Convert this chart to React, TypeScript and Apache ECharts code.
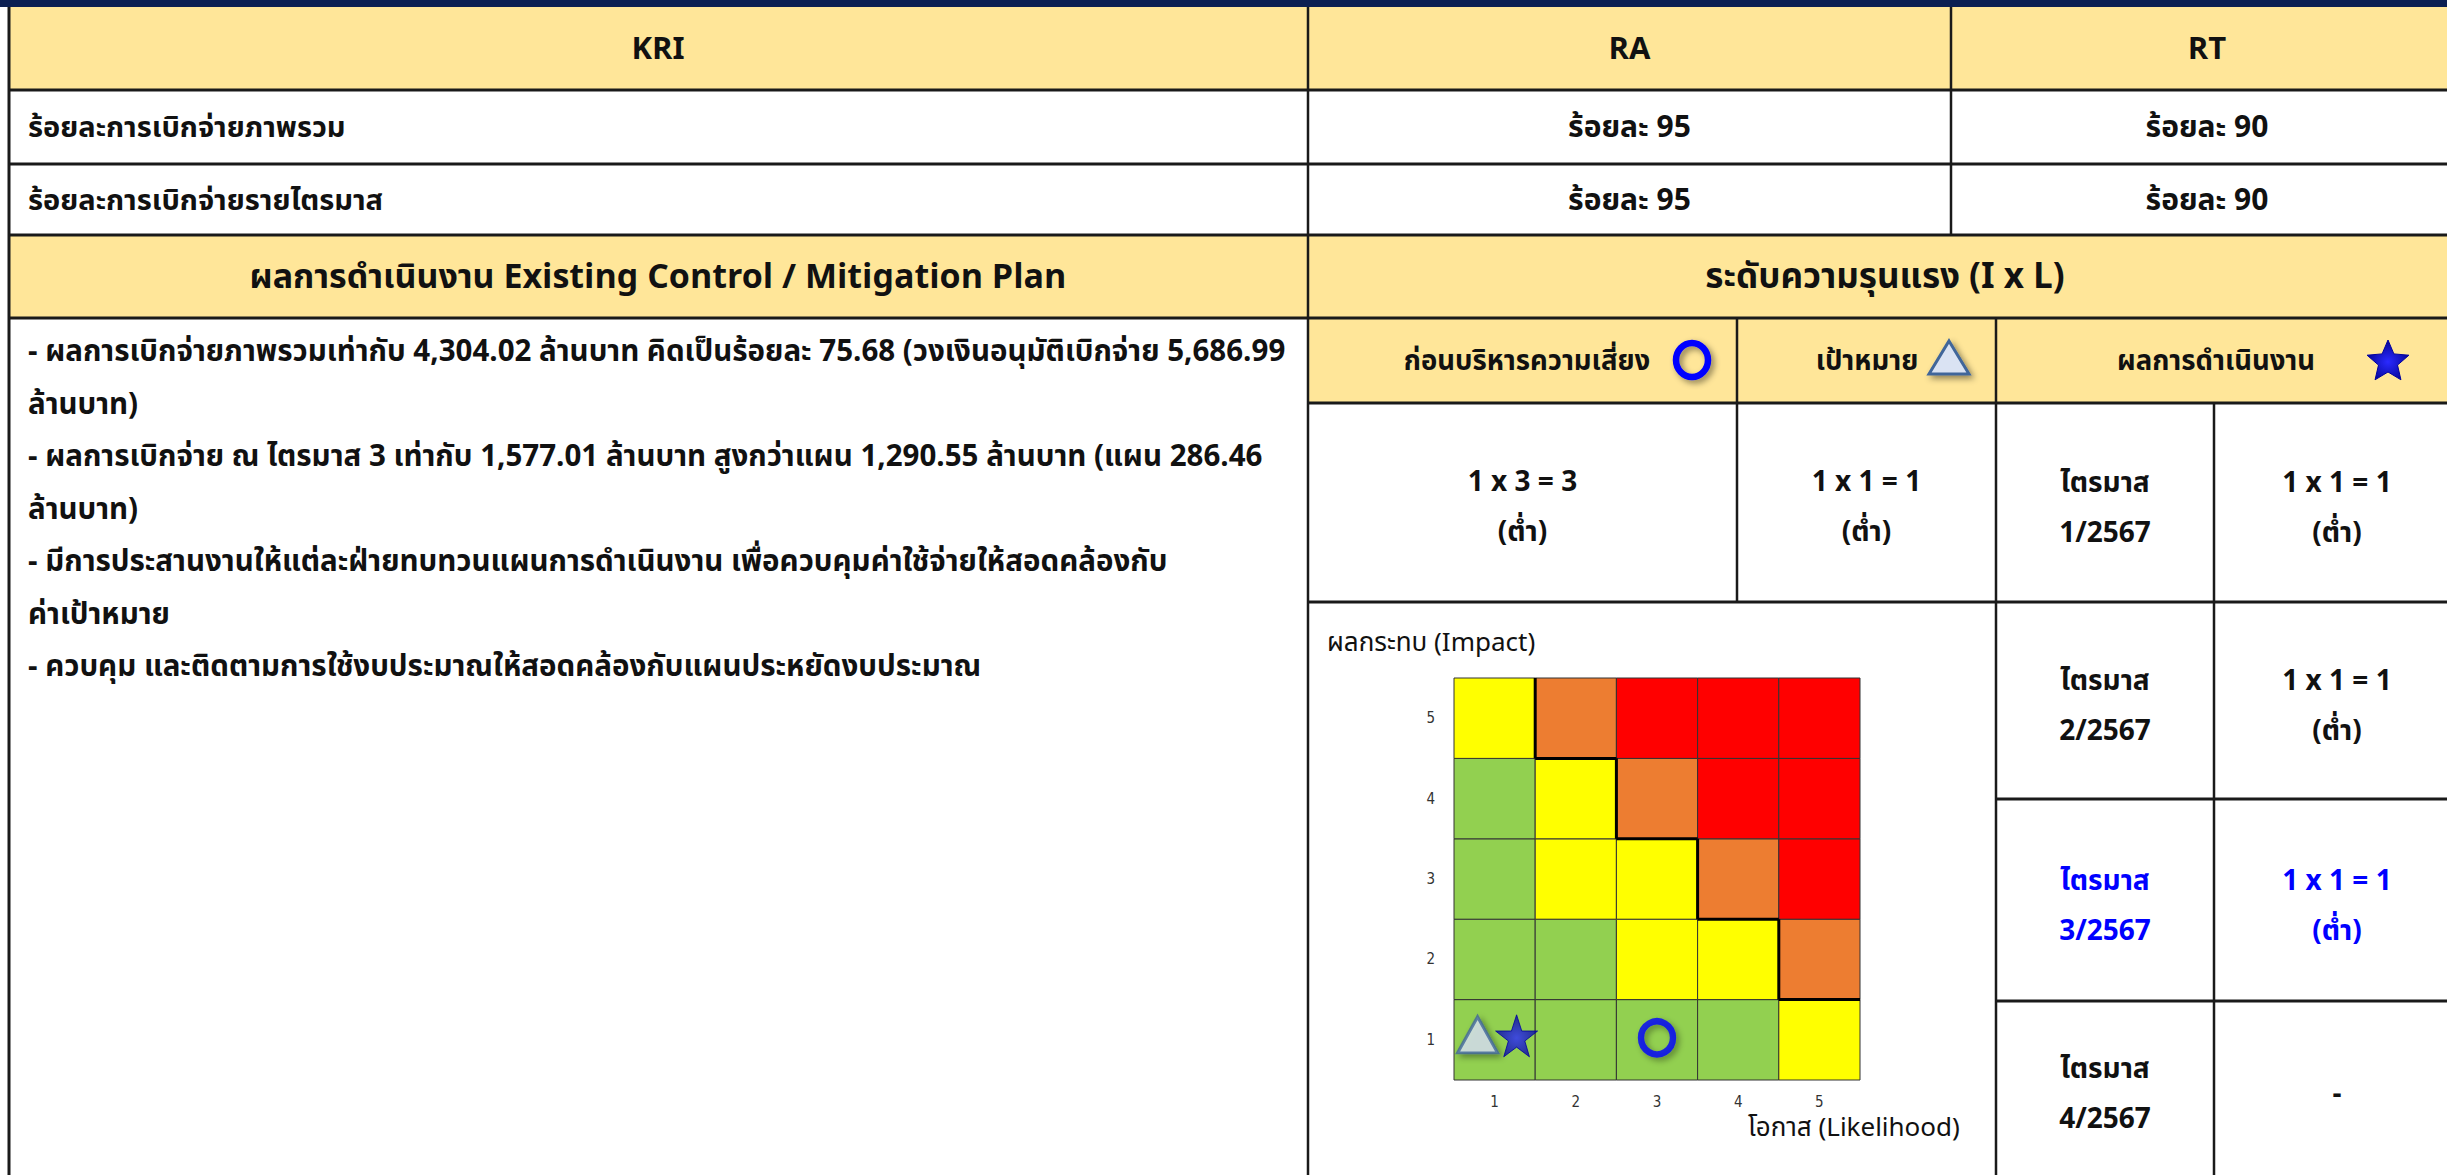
import React, { useEffect, useRef } from 'react';
import * as echarts from 'echarts';

// ---------- data ----------
const headerLabels = ['KRI', 'RA', 'RT'];
const kriNames = ['ร้อยละการเบิกจ่ายภาพรวม', 'ร้อยละการเบิกจ่ายรายไตรมาส'];
const raValues = ['ร้อยละ 95', 'ร้อยละ 95'];
const rtValues = ['ร้อยละ 90', 'ร้อยละ 90'];
const planTitle = 'ผลการดำเนินงาน Existing Control / Mitigation Plan';
const severityTitle = 'ระดับความรุนแรง (I x L)';
const planLines = [
  '- ผลการเบิกจ่ายภาพรวมเท่ากับ 4,304.02 ล้านบาท คิดเป็นร้อยละ 75.68 (วงเงินอนุมัติเบิกจ่าย 5,686.99',
  'ล้านบาท)',
  '- ผลการเบิกจ่าย ณ ไตรมาส 3 เท่ากับ 1,577.01 ล้านบาท สูงกว่าแผน 1,290.55 ล้านบาท (แผน 286.46',
  'ล้านบาท)',
  '- มีการประสานงานให้แต่ละฝ่ายทบทวนแผนการดำเนินงาน เพื่อควบคุมค่าใช้จ่ายให้สอดคล้องกับ',
  'ค่าเป้าหมาย',
  '- ควบคุม และติดตามการใช้งบประมาณให้สอดคล้องกับแผนประหยัดงบประมาณ',
];
const subHeaders = ['ก่อนบริหารความเสี่ยง', 'เป้าหมาย', 'ผลการดำเนินงาน'];
const beforeScore = '1 x 3 = 3';
const targetScore = '1 x 1 = 1';
const lowLevel = '(ต่ำ)';
const quarterWord = 'ไตรมาส';
const quarterPeriods = ['1/2567', '2/2567', '3/2567', '4/2567'];
const quarterScores = ['1 x 1 = 1', '1 x 1 = 1', '1 x 1 = 1', '-'];
const quarterLevels = ['(ต่ำ)', '(ต่ำ)', '(ต่ำ)', ''];
const currentQuarter = 2; // index of highlighted quarter (3/2567)

const likelihoodTicks = ['1', '2', '3', '4', '5'];
const impactTicks = ['1', '2', '3', '4', '5'];
// risk level per impact row (1 → 5), each listing likelihood 1 → 5
const riskLevels = [
  [1, 1, 1, 1, 2],
  [1, 1, 2, 2, 3],
  [1, 2, 2, 3, 4],
  [1, 2, 3, 4, 4],
  [2, 3, 4, 4, 4],
];
const levelColors = ['#92D050', '#FFFF00', '#ED7D31', '#FF0000'];
const beforePoint = [3, 1]; // [likelihood, impact]
const targetPoint = [1, 1];
const actualPoint = [1, 1];
const impactAxisName = 'ผลกระทบ (Impact)';
const likelihoodAxisName = 'โอกาส (Likelihood)';

// ---------- styling ----------
const FONT = "Tahoma, 'Noto Sans Thai', 'Noto Sans', 'DejaVu Sans', sans-serif";
const YELLOW = '#FFE699';
const LINE = '#1a1a1a';
const BLUE = '#0000FF';
const STAR_PATH =
  'path://M50,0 L61.8,35.1 L98.1,35.1 L68.8,56.7 L79.4,90.9 L50,70 L20.6,90.9 L31.2,56.7 L1.9,35.1 L38.2,35.1 Z';

function starPoints(cx: number, cy: number, R: number, r: number) {
  const pts: number[][] = [];
  for (let i = 0; i < 10; i++) {
    const a = -Math.PI / 2 + (i * Math.PI) / 5;
    const rad = i % 2 === 0 ? R : r;
    pts.push([cx + rad * Math.cos(a), cy + rad * Math.sin(a)]);
  }
  return pts;
}

function buildGraphic() {
  const g: any[] = [];
  const W = 2447;
  const L = 8, C1 = 1308, C2 = 1951, R = 2470;
  const S1 = 1737, S2 = 1996, S3 = 2214;
  const y0 = 7, y1 = 90, y2 = 164, y3 = 235, y4 = 318, y5 = 403, y6 = 602, y7 = 799, y8 = 1001, yB = 1180;

  const rect = (x: number, y: number, w: number, h: number, fill: string) =>
    g.push({ type: 'rect', silent: true, z: 0, shape: { x, y, width: w, height: h }, style: { fill } });
  const hline = (x1: number, x2: number, y: number, w = 3) =>
    g.push({ type: 'line', silent: true, z: 10, shape: { x1, y1: y, x2, y2: y }, style: { stroke: LINE, lineWidth: w } });
  const vline = (x: number, y1: number, y2: number, w = 2.5) =>
    g.push({ type: 'line', silent: true, z: 10, shape: { x1: x, y1, x2: x, y2 }, style: { stroke: LINE, lineWidth: w } });
  const text = (x: number, y: number, t: string, size: number, opts: any = {}) =>
    g.push({
      type: 'text', silent: true, z: 12, x, y,
      style: {
        text: t, fontSize: size, fontFamily: FONT, fontWeight: opts.weight || 'bold',
        fill: opts.color || '#111', textAlign: opts.align || 'center', textVerticalAlign: 'middle',
        lineHeight: opts.lineHeight || size * 1.3,
      },
    });

  // backgrounds
  rect(0, 0, W, y0, '#0B1F52');
  rect(L, y0, R - L, y1 - y0, YELLOW);
  rect(L, y3, R - L, y4 - y3, YELLOW);
  rect(C1, y4, R - C1, y5 - y4, YELLOW);

  // lines
  [y1, y2, y3, y4].forEach((y) => hline(L, R, y));
  hline(C1, R, y5);
  hline(C1, R, y6);
  hline(S2, R, y7);
  hline(S2, R, y8);
  vline(L + 1, y0, yB, 3);
  vline(C1, y0, yB);
  vline(C2, y0, y3);
  vline(S1, y4, y6);
  vline(S2, y4, yB);
  vline(S3, y5, yB);

  // header row
  const colCenters = [(L + C1) / 2, (C1 + C2) / 2, 2207];
  headerLabels.forEach((t, i) => text(colCenters[i], (y0 + y1) / 2 + 1, t, 31, { weight: 'bold' }));

  // KRI rows
  const rowMid = [(y1 + y2) / 2, (y2 + y3) / 2];
  kriNames.forEach((t, i) => {
    text(28, rowMid[i] + 1, t, 29, { align: 'left' });
    text(colCenters[1], rowMid[i] + 1, raValues[i], 30);
    text(colCenters[2], rowMid[i] + 1, rtValues[i], 30);
  });

  // section headers
  text((L + C1) / 2, (y3 + y4) / 2 + 1, planTitle, 34, { weight: 'bold' });
  text(1885, (y3 + y4) / 2 + 1, severityTitle, 35, { weight: 'bold' });

  // plan lines
  planLines.forEach((t, i) => text(28, 352 + i * 52.5, t, 29.5, { align: 'left' }));

  // sub headers with icons
  const sy = (y4 + y5) / 2;
  text(1527, sy + 1, subHeaders[0], 27.5);
  text(1867, sy + 1, subHeaders[1], 27.5);
  text(2216, sy + 1, subHeaders[2], 27.5);
  g.push({
    type: 'ellipse', silent: true, z: 12,
    shape: { cx: 1692, cy: 360, rx: 16, ry: 17 },
    style: { fill: 'none', stroke: BLUE, lineWidth: 6.5, shadowBlur: 6, shadowColor: 'rgba(0,0,0,0.45)', shadowOffsetX: 3, shadowOffsetY: 3 },
  });
  g.push({
    type: 'polygon', silent: true, z: 12,
    shape: { points: [[1949, 341], [1969, 374], [1929, 374]] },
    style: { fill: '#DAE3F3', stroke: '#41669A', lineWidth: 3, shadowBlur: 6, shadowColor: 'rgba(0,0,0,0.45)', shadowOffsetX: 3, shadowOffsetY: 3 },
  });
  g.push({
    type: 'polygon', silent: true, z: 12,
    shape: { points: starPoints(2388, 362, 22, 10) },
    style: {
      fill: new echarts.graphic.RadialGradient(0.5, 0.55, 0.6, [
        { offset: 0, color: '#2a2aff' },
        { offset: 1, color: '#00008a' },
      ]),
      stroke: '#0000A0', lineWidth: 1,
    },
  });

  // before / target row
  const r1 = (y5 + y6) / 2 + 5;
  text((C1 + S1) / 2, r1, beforeScore + '\n' + lowLevel, 28, { lineHeight: 50 });
  text((S1 + S2) / 2, r1, targetScore + '\n' + lowLevel, 28, { lineHeight: 50 });

  // quarter rows
  const qTops = [y5, y6, y7, y8];
  const qBots = [y6, y7, y8, 1175];
  quarterPeriods.forEach((p, i) => {
    const cy = (qTops[i] + qBots[i]) / 2 + 6;
    const color = i === currentQuarter ? BLUE : '#111';
    text((S2 + S3) / 2, cy, quarterWord + '\n' + p, 28, { lineHeight: 50, color });
    const sc = quarterLevels[i] ? quarterScores[i] + '\n' + quarterLevels[i] : quarterScores[i];
    text(2337, cy, sc, 28, { lineHeight: 50, color });
  });

  // matrix titles
  text(1327, 643, impactAxisName, 26, { align: 'left', weight: 'normal' });
  text(1748, 1128, likelihoodAxisName, 26, { align: 'left', weight: 'normal' });

  return g;
}

function buildOption() {
  const cells: number[][] = [];
  riskLevels.forEach((row, yi) => row.forEach((lvl, xi) => cells.push([xi, yi, lvl])));
  const idx = (p: number[]) => [p[0] - 1, p[1] - 1];

  return {
    animation: false,
    backgroundColor: '#ffffff',
    graphic: { elements: buildGraphic() },
    grid: { left: 1454, top: 678, width: 406, height: 402 },
    xAxis: {
      type: 'category', data: likelihoodTicks,
      axisLine: { show: false }, axisTick: { show: false }, splitLine: { show: false },
      axisLabel: { fontSize: 15, color: '#333', margin: 14, fontFamily: "'DejaVu Sans Condensed', sans-serif" },
    },
    yAxis: {
      type: 'category', data: impactTicks,
      axisLine: { show: false }, axisTick: { show: false }, splitLine: { show: false },
      axisLabel: { fontSize: 15, color: '#333', margin: 19, fontFamily: "'DejaVu Sans Condensed', sans-serif" },
    },
    series: [
      {
        type: 'custom',
        z: 2,
        data: cells,
        renderItem: (params: any, api: any) => {
          const xi = api.value(0);
          const yi = api.value(1);
          const lvl = api.value(2);
          const c = api.coord([xi, yi]);
          const s = api.size([1, 1]);
          const x0 = c[0] - s[0] / 2;
          const yTop = c[1] - s[1] / 2;
          const children: any[] = [
            {
              type: 'rect', z2: 1,
              shape: { x: x0, y: yTop, width: s[0], height: s[1] },
              style: { fill: levelColors[lvl - 1], stroke: '#333', lineWidth: 1 },
            },
          ];
          if (lvl >= 3) {
            if (xi > 0 && riskLevels[yi][xi - 1] <= 2) {
              children.push({ type: 'line', z2: 10, shape: { x1: x0, y1: yTop, x2: x0, y2: yTop + s[1] }, style: { stroke: '#000', lineWidth: 3 } });
            }
            if (yi > 0 && riskLevels[yi - 1][xi] <= 2) {
              children.push({ type: 'line', z2: 10, shape: { x1: x0, y1: yTop + s[1], x2: x0 + s[0], y2: yTop + s[1] }, style: { stroke: '#000', lineWidth: 3 } });
            }
          }
          return { type: 'group', children };
        },
      },
      {
        type: 'scatter', z: 5, name: 'before',
        data: [idx(beforePoint)],
        symbol: 'circle', symbolSize: [32, 33], symbolOffset: [0, -2],
        itemStyle: { color: 'rgba(0,0,0,0)', borderColor: BLUE, borderWidth: 6.5, shadowBlur: 6, shadowColor: 'rgba(0,0,0,0.45)', shadowOffsetX: 3, shadowOffsetY: 3 },
      },
      {
        type: 'scatter', z: 5, name: 'target',
        data: [idx(targetPoint)],
        symbol: 'triangle', symbolSize: [40, 36], symbolOffset: [-17, -5],
        itemStyle: { color: '#DAE3F3', borderColor: '#41669A', borderWidth: 3, shadowBlur: 6, shadowColor: 'rgba(0,0,0,0.45)', shadowOffsetX: 3, shadowOffsetY: 3 },
      },
      {
        type: 'scatter', z: 6, name: 'actual',
        data: [idx(actualPoint)],
        symbol: STAR_PATH, symbolSize: [42, 42], symbolOffset: [22, -4],
        itemStyle: {
          color: new echarts.graphic.RadialGradient(0.5, 0.55, 0.6, [
            { offset: 0, color: '#2a2aff' },
            { offset: 1, color: '#00008a' },
          ]),
          borderColor: '#0000A0', borderWidth: 1,
        },
      },
    ],
  };
}

export default function App() {
  const ref = useRef<HTMLDivElement>(null);
  useEffect(() => {
    document.body.style.margin = '0';
    document.body.style.overflow = 'hidden';
    const chart = echarts.init(ref.current!, undefined, { renderer: 'svg' });
    chart.setOption(buildOption() as any);
    return () => chart.dispose();
  }, []);
  return <div ref={ref} style={{ position: 'absolute', left: 0, top: 0, width: 2447, height: 1175 }} />;
}
